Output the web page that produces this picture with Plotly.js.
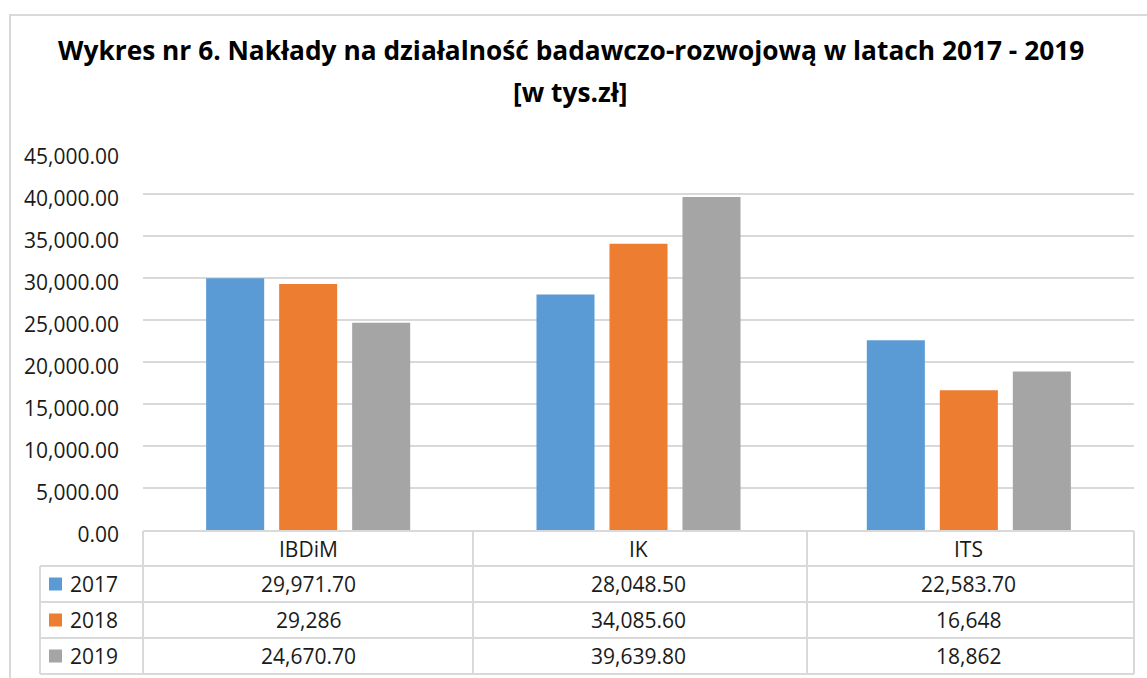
<!DOCTYPE html>
<html>
<head>
<meta charset="utf-8">
<script src="https://cdn.plot.ly/plotly-3.0.1.min.js"></script>
<style>html,body{margin:0;padding:0;background:#fff;}#chart{width:1147px;height:678px;}</style>
</head>
<body>
<div id="chart"></div>
<script>
// ---- data ----
const categories = ["IBDiM", "IK", "ITS"];
const years = ["2017", "2018", "2019"];
const values2017 = [29971.70, 28048.50, 22583.70];
const values2018 = [29286, 34085.60, 16648];
const values2019 = [24670.70, 39639.80, 18862];
const colors = ["#5B9BD5", "#ED7D31", "#A5A5A5"];
const titleLines = ["Wykres nr 6. Nakłady na działalność badawczo-rozwojową w latach 2017 - 2019", "[w tys.zł]"];

const series = [values2017, values2018, values2019];

// ---- geometry (pixels) ----
const W = 1147, H = 678;
const L = 143, R = 13, T = 152, B = 148;
const plotW = W - L - R, plotH = H - T - B;
const px = x => (x - L) / plotW;           // pixel x -> paper x
const py = y => (H - B - y) / plotH;       // pixel y -> paper y

const font = "Open Sans, Liberation Sans, sans-serif";
const fs = 21;
const txtColor = "#1a1a1a";
const lineColor = "#D9D9D9";

const traces = series.map((vals, i) => ({
  type: "bar",
  name: years[i],
  x: categories,
  y: vals,
  marker: {color: colors[i]},
  hoverinfo: "x+y+name"
}));

function fmt(v) {
  const dec = Number.isInteger(v) ? 0 : 2;
  return v.toLocaleString("en-US", {minimumFractionDigits: dec, maximumFractionDigits: dec});
}

// table rows (pixel y of row borders)
const rowTop = [531, 566, 602, 638, 674];
const colX = [40, 143, 473, 807, 1134];

const shapes = [];
// outer chart border
shapes.push({type: "rect", xref: "paper", yref: "paper", x0: px(10), x1: px(1160), y0: py(15), y1: py(700),
  line: {color: lineColor, width: 2}, fillcolor: "rgba(0,0,0,0)", layer: "below"});
// horizontal table lines
rowTop.forEach((y, i) => {
  shapes.push({type: "line", xref: "paper", yref: "paper", x0: px(i === 0 ? colX[1] : colX[0]), x1: px(colX[4]),
    y0: py(y), y1: py(y), line: {color: lineColor, width: 2}});
});
// vertical table lines
colX.forEach((x, i) => {
  shapes.push({type: "line", xref: "paper", yref: "paper", x0: px(x), x1: px(x),
    y0: py(i === 0 ? rowTop[1] : rowTop[0]), y1: py(rowTop[4]), line: {color: lineColor, width: 2}});
});
// legend keys in table
years.forEach((yr, i) => {
  const cy = (rowTop[i + 1] + rowTop[i + 2]) / 2;
  shapes.push({type: "rect", xref: "paper", yref: "paper", x0: px(49), x1: px(62), y0: py(cy - 6.5), y1: py(cy + 6.5),
    line: {width: 0}, fillcolor: colors[i]});
});

const annotations = [];
// title (two lines)
const titleY = [50, 92];
titleLines.forEach((t, i) => {
  annotations.push({xref: "paper", yref: "paper", x: px(W / 2 - 3), y: py(titleY[i]), text: "<b>" + t + "</b>",
    showarrow: false, xanchor: "center", yanchor: "middle",
    font: {family: font, size: 26.3, color: "#000"}});
});
// header
categories.forEach(c => {
  annotations.push({xref: "x", yref: "paper", x: c, y: py((rowTop[0] + rowTop[1]) / 2), text: c, showarrow: false,
    font: {family: font, size: fs, color: txtColor}, xanchor: "center", yanchor: "middle"});
});
// rows
years.forEach((yr, i) => {
  const cy = py((rowTop[i + 1] + rowTop[i + 2]) / 2);
  annotations.push({xref: "paper", yref: "paper", x: px(68), y: cy, text: yr, showarrow: false,
    font: {family: font, size: fs, color: txtColor}, xanchor: "left", yanchor: "middle"});
  categories.forEach((c, j) => {
    annotations.push({xref: "x", yref: "paper", x: c, y: cy, text: fmt(series[i][j]), showarrow: false,
      font: {family: font, size: fs, color: txtColor}, xanchor: "center", yanchor: "middle"});
  });
});

const layout = {
  width: W, height: H,
  margin: {l: L, r: R, t: T, b: B, pad: 0},
  paper_bgcolor: "#fff", plot_bgcolor: "#fff",
  showlegend: false,
  barmode: "group",
  bargap: 0.337,
  bargroupgap: 0.205,
  xaxis: {showticklabels: false, showgrid: false, zeroline: false, showline: false, ticks: "", fixedrange: true},
  yaxis: {range: [0, 45000], dtick: 5000, tickformat: ",.2f", showgrid: true, gridcolor: lineColor, gridwidth: 2,
    zeroline: false, showline: false, ticks: "", ticklabelstandoff: 23, ticklabelshift: 5,
    tickfont: {family: font, size: fs, color: txtColor}, fixedrange: true},
  shapes: shapes,
  annotations: annotations
};

Plotly.newPlot("chart", traces, layout, {displayModeBar: false, staticPlot: true});
</script>
</body>
</html>
